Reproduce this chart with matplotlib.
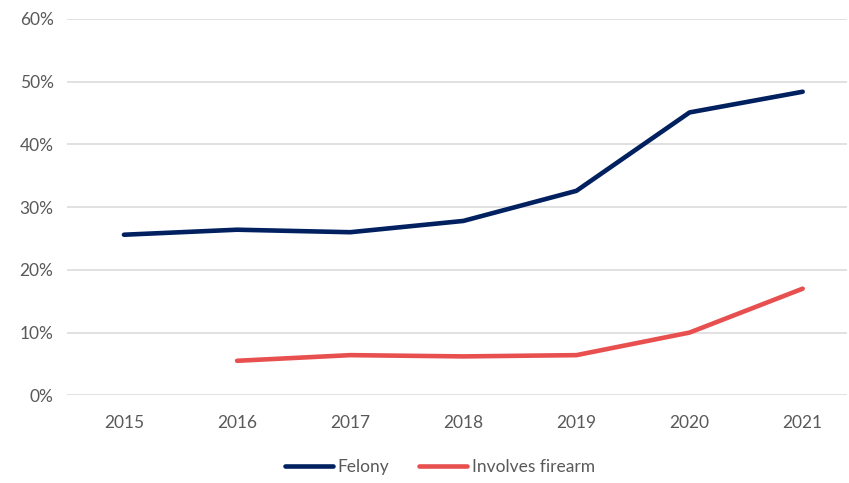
import numpy as np
import matplotlib
matplotlib.use("Agg")
import matplotlib.pyplot as plt
from matplotlib.ticker import PercentFormatter

plt.rcParams['font.family'] = ['Lato', 'DejaVu Sans']

years = ["2015", "2016", "2017", "2018", "2019", "2020", "2021"]
felony = [25.6, 26.4, 26.0, 27.8, 32.6, 45.1, 48.4]
firearm = [np.nan, 5.5, 6.4, 6.2, 6.4, 10.0, 17.0]
yticks = [0, 10, 20, 30, 40, 50, 60]

navy = "#002060"
red = "#E85050"
grey_text = "#595959"

fig = plt.figure(figsize=(8.49, 4.83), dpi=100)
ax = fig.add_axes([0.0794, 0.1816, 0.918, 0.7791])

x = np.arange(len(years))
ax.plot(x, felony, color=navy, lw=3.3, solid_capstyle="round", solid_joinstyle="round", label="Felony")
ax.plot(x, firearm, color=red, lw=3.3, solid_capstyle="round", solid_joinstyle="round", label="Involves firearm")

ax.set_xlim(-0.5, 6.39)
ax.set_ylim(0, 60)
ax.set_yticks(yticks)
ax.yaxis.set_major_formatter(PercentFormatter(decimals=0))
ax.set_xticks(x)
ax.set_xticklabels(years)
ax.grid(axis="y", color="#D9D9D9", lw=1.1)
ax.set_axisbelow(True)
for s in ax.spines.values():
    s.set_visible(False)
ax.tick_params(length=0, labelsize=12.5, colors=grey_text)
ax.tick_params(axis="x", pad=14)
ax.tick_params(axis="y", pad=10)

leg = ax.legend(loc="center", bbox_to_anchor=(0.478, -0.19), ncol=2, frameon=False,
                fontsize=12.5, handlelength=2.75, handletextpad=0.3, columnspacing=1.7)
for t in leg.get_texts():
    t.set_color(grey_text)

fig.savefig("out.png", dpi=100)
